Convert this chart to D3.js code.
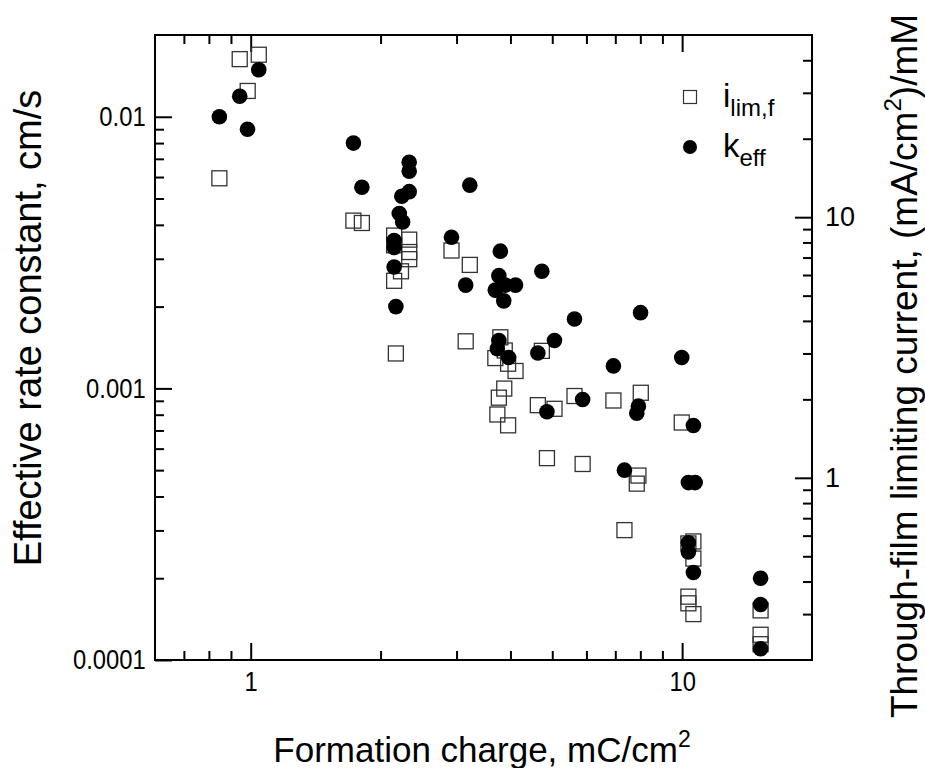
<!DOCTYPE html>
<html>
<head>
<meta charset="utf-8">
<script src="https://cdn.jsdelivr.net/npm/d3@7"></script>
<style>
  body { margin: 0; background: #fff; }
  svg text { font-family: "Liberation Sans", Arial, sans-serif; fill: #000; }
</style>
</head>
<body>
<div id="root"><svg width="925" height="768"></svg></div>
<script>
// formation charge (mC/cm2) and effective rate constant (cm/s), left axis
const keffCharge = [0.846, 0.943, 0.983, 1.044, 1.73, 1.81, 2.33, 2.33, 2.33, 2.24, 2.21, 2.25,
  2.15, 2.15, 2.15, 2.17, 2.92, 3.22, 3.15, 3.79, 3.76, 3.89, 4.11, 3.69, 3.86, 3.76, 3.73, 3.96,
  4.73, 5.63, 5.06, 4.63, 4.86, 5.88, 6.93, 8.01, 7.92, 7.85, 7.35, 9.98, 10.62, 10.34, 10.72,
  10.34, 10.34, 10.62, 15.2, 15.2, 15.2];
const keffValues = [0.0100, 0.0119, 0.0090, 0.0149, 0.0080, 0.0055, 0.0068, 0.0063, 0.0053, 0.0051, 0.0044, 0.0041,
  0.0035, 0.0033, 0.0028, 0.0020, 0.0036, 0.0056, 0.0024, 0.0032, 0.0026, 0.0024, 0.0024, 0.0023, 0.0021, 0.0015, 0.0014, 0.0013,
  0.0027, 0.0018, 0.0015, 0.00135, 0.00082, 0.00091, 0.00121, 0.0019, 0.00086, 0.00081, 0.00050, 0.0013, 0.00073, 0.00045, 0.00045,
  0.00027, 0.00025, 0.00021, 0.00020, 0.00016, 0.00011];

// formation charge and through-film limiting current ((mA/cm2)/mM), right axis
const ilimCharge = [0.846, 0.943, 1.044, 0.984, 1.73, 1.81, 2.15, 2.15, 2.33, 2.33, 2.33, 2.23, 2.15, 2.17,
  2.92, 3.22, 3.15, 3.79, 3.88, 3.69, 3.95, 4.11, 4.73, 3.87, 3.76, 3.73, 3.95, 4.63, 5.06, 5.63, 6.93,
  8.02, 9.98, 4.86, 5.88, 7.92, 7.85, 7.35, 10.62, 10.34, 10.62, 10.34, 10.34, 10.62, 15.2, 15.2, 15.2];
const ilimValues = [14.1, 40.4, 42.0, 30.5, 9.7, 9.5, 8.5, 7.8, 8.2, 7.35, 6.9, 6.2, 5.7, 3.0,
  7.45, 6.56, 3.34, 3.46, 3.08, 2.88, 2.74, 2.57, 3.07, 2.20, 2.03, 1.75, 1.59, 1.90, 1.84, 2.06, 1.98,
  2.12, 1.63, 1.19, 1.13, 1.02, 0.95, 0.63, 0.57, 0.56, 0.49, 0.35, 0.33, 0.30, 0.31, 0.25, 0.23];

const xMajor = [1, 10];
const xMinor = [0.7, 0.8, 0.9, 2, 3, 4, 5, 6, 7, 8, 9];
const yLeftMajor = [0.0001, 0.001, 0.01];
const yLeftMinor = [0.0002, 0.0003, 0.0004, 0.0005, 0.0006, 0.0007, 0.0008, 0.0009,
  0.002, 0.003, 0.004, 0.005, 0.006, 0.007, 0.008, 0.009];
const yRightMajor = [1, 10];
const yRightMinor = [0.3, 0.4, 0.5, 0.6, 0.7, 0.8, 0.9, 2, 3, 4, 5, 6, 7, 8, 9, 20, 30, 40];

function drawChart() {
  const left = 155, right = 812, top = 35, bottom = 660;
  const svg = d3.select('#root svg');

  const xScale = d3.scaleLog().domain([0.6, 20]).range([left, right]);
  const yLeft = d3.scaleLog().domain([0.0001, 0.02]).range([bottom, top]);
  const yRight = d3.scaleLog().domain([0.2, 50]).range([bottom, top]);

  const fmt = (d) => String(d);
  const major = 17, minor = 9;

  function addAxis(axis, id, tx, ty, labels) {
    const g = svg.append('g')
      .attr('id', id)
      .attr('transform', `translate(${tx} ${ty})`)
      .call(axis);
    g.select('.domain').remove();
    g.selectAll('.tick line').attr('stroke', '#000').attr('stroke-width', 2);
    g.selectAll('.tick text').attr('font-size', '27px');
    if (!labels) g.selectAll('.tick text').remove();
    return g;
  }

  // bottom
  addAxis(d3.axisBottom(xScale).tickValues(xMajor).tickFormat(fmt).tickSizeInner(-major).tickPadding(12),
    'x_axis_g', 0, bottom, true)
    .selectAll('.tick text').attr('transform', 'scale(0.88 1)');
  addAxis(d3.axisBottom(xScale).tickValues(xMinor).tickSizeInner(-minor), 'x_minor_g', 0, bottom, false);
  // top
  addAxis(d3.axisTop(xScale).tickValues(xMajor).tickSizeInner(-major), 'x_top_g', 0, top, false);
  addAxis(d3.axisTop(xScale).tickValues(xMinor).tickSizeInner(-minor), 'x_top_minor_g', 0, top, false);
  // left (labels condensed like the original)
  addAxis(d3.axisLeft(yLeft).tickValues(yLeftMajor).tickFormat(fmt).tickSizeInner(-major).tickPadding(11),
    'y_axis_g', left, 0, true)
    .selectAll('.tick text').attr('font-size', '28px').attr('transform', 'scale(0.85 1)');
  addAxis(d3.axisLeft(yLeft).tickValues(yLeftMinor).tickSizeInner(-minor), 'y_minor_g', left, 0, false);
  // right
  addAxis(d3.axisRight(yRight).tickValues(yRightMajor).tickFormat(fmt).tickSizeInner(-major).tickPadding(13),
    'y_right_g', right, 0, true);
  addAxis(d3.axisRight(yRight).tickValues(yRightMinor).tickSizeInner(-minor), 'y_right_minor_g', right, 0, false);

  svg.append('rect')
    .attr('x', left).attr('y', top)
    .attr('width', right - left).attr('height', bottom - top)
    .attr('fill', 'none').attr('stroke', '#000').attr('stroke-width', 2);

  // squares first, circles drawn over them
  const sq = 15;
  svg.append('g').selectAll('rect.ilim')
    .data(ilimCharge.map((c, i) => [c, ilimValues[i]]))
    .enter().append('rect')
    .attr('class', 'ilim')
    .attr('x', (d) => xScale(d[0]) - sq / 2)
    .attr('y', (d) => yRight(d[1]) - sq / 2)
    .attr('width', sq).attr('height', sq)
    .attr('fill', 'none').attr('stroke', '#333').attr('stroke-width', 1.3);

  svg.append('g').selectAll('circle.keff')
    .data(keffCharge.map((c, i) => [c, keffValues[i]]))
    .enter().append('circle')
    .attr('class', 'keff')
    .attr('cx', (d) => xScale(d[0]))
    .attr('cy', (d) => yLeft(d[1]))
    .attr('r', 7.8)
    .attr('fill', '#000');

  // legend
  const lg = svg.append('g').attr('transform', 'translate(690 0)');
  lg.append('rect').attr('x', -6.5).attr('y', 90.5).attr('width', 13).attr('height', 13)
    .attr('fill', 'none').attr('stroke', '#333').attr('stroke-width', 1.2);
  lg.append('circle').attr('cx', 0).attr('cy', 147).attr('r', 7).attr('fill', '#000');
  const t1 = lg.append('text').attr('x', 33).attr('y', 107).attr('font-size', '33px');
  t1.append('tspan').text('i');
  t1.append('tspan').attr('font-size', '24px').attr('dy', 9).text('lim,f');
  const t2 = lg.append('text').attr('x', 33).attr('y', 157).attr('font-size', '33px');
  t2.append('tspan').text('k');
  t2.append('tspan').attr('font-size', '24px').attr('dy', 9).text('eff');

  // axis titles
  const xt = svg.append('text').attr('x', 482).attr('y', 762)
    .attr('text-anchor', 'middle').attr('font-size', '35px');
  xt.append('tspan').text('Formation charge, mC/cm');
  xt.append('tspan').attr('font-size', '23px').attr('dy', -15).text('2');

  svg.append('text')
    .attr('transform', 'translate(41 328) rotate(-90)')
    .attr('text-anchor', 'middle').attr('font-size', '38px')
    .text('Effective rate constant, cm/s');

  const rt = svg.append('text')
    .attr('transform', 'translate(917 366) rotate(-90)')
    .attr('text-anchor', 'middle').attr('font-size', '37px');
  rt.append('tspan').text('Through-film limiting current, (mA/cm');
  rt.append('tspan').attr('font-size', '24px').attr('dy', -16).text('2');
  rt.append('tspan').attr('dy', 16).text(')/mM');
}

window.addEventListener('load', function() {
  drawChart();
});
</script>
</body>
</html>
